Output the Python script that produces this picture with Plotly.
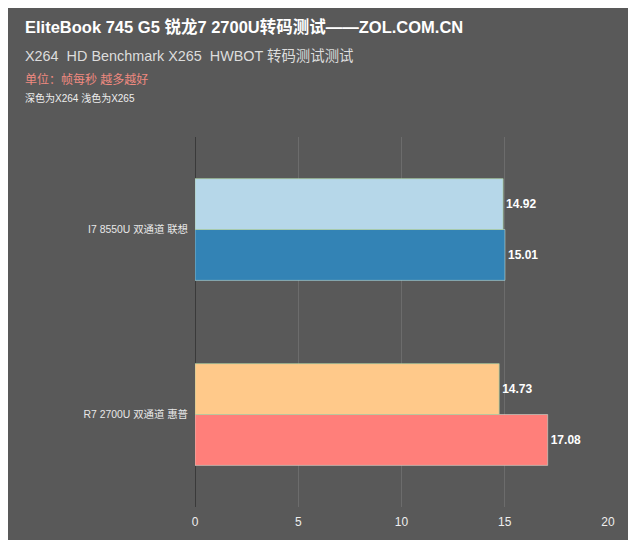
import plotly.graph_objects as go

categories = ["R7 2700U 双通道 惠普", "I7 8550U 双通道 联想"]
x264_values = [17.08, 15.01]
x265_values = [14.73, 14.92]
x264_colors = ["#ff7f7a", "#3383b5"]
x265_colors = ["#ffc98a", "#b6d7e9"]
x_ticks = [0, 5, 10, 15, 20]

OFF = 8  # page body margin
W, H = 620, 532
L, R, T, B = 187, 20, 129, 33
pw, ph = W - L - R, H - T - B

def px(x):
    return (x - OFF - L) / pw

def py(y):
    return (H - B - (y - OFF)) / ph

FONT = "Liberation Sans, Arial, Noto Sans CJK SC, sans-serif"

fig = go.Figure()
fig.add_trace(go.Bar(
    y=categories, x=x264_values, orientation="h", name="X264",
    marker=dict(color=x264_colors, line=dict(color="rgba(200,225,215,0.55)", width=1)),
    text=[f"{v:.2f}" for v in x264_values], textposition="outside",
    textfont=dict(color="white", size=12, family=FONT, weight="bold"),
    cliponaxis=False,
))
fig.add_trace(go.Bar(
    y=categories, x=x265_values, orientation="h", name="X265",
    marker=dict(color=x265_colors, line=dict(color="rgba(170,205,160,0.7)", width=1)),
    text=[f"{v:.2f}" for v in x265_values], textposition="outside",
    textfont=dict(color="white", size=12, family=FONT, weight="bold"),
    cliponaxis=False,
))

annotations = [
    dict(text="<b>EliteBook 745 G5 锐龙7 2700U转码测试——ZOL.COM.CN</b>", x=px(23), y=py(27),
         font=dict(size=16.5, color="white", family=FONT)),
    dict(text="X264  HD Benchmark X265  HWBOT 转码测试测试", x=px(23), y=py(56),
         font=dict(size=14.4, color="#dddddd", family=FONT)),
    dict(text="单位：帧每秒 越多越好", x=px(23), y=py(79),
         font=dict(size=12, color="#f08a80", family=FONT)),
    dict(text="深色为X264 浅色为X265", x=px(23), y=py(98),
         font=dict(size=10, color="#eeeeee", family=FONT)),
]
for a in annotations:
    a.update(xref="paper", yref="paper", xanchor="left", yanchor="middle", showarrow=False)

fig.update_layout(
    width=W, height=H,
    margin=dict(l=L, r=R, t=T, b=B, autoexpand=False),
    paper_bgcolor="#595959", plot_bgcolor="rgba(0,0,0,0)",
    barmode="group", bargap=0.45, bargroupgap=0,
    showlegend=False,
    annotations=annotations,
    font=dict(family=FONT, color="#eeeeee"),
    xaxis=dict(range=[0, 20], tickvals=x_ticks, showgrid=True, gridcolor="#6c6c6c", gridwidth=1,
               zeroline=True, zerolinecolor="#3a3a3a", zerolinewidth=1,
               showline=False, ticks="", tickfont=dict(size=12, color="#eeeeee"),
               ticklabelstandoff=6),
    yaxis=dict(showgrid=False, zeroline=False, ticks="", tickfont=dict(size=10.4, color="#e8e8e8"),
               ticklabelstandoff=6),
)

fig.write_html("out.html")
